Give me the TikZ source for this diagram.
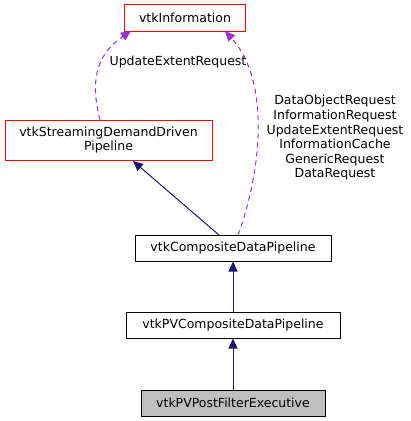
\documentclass[tikz,border=0pt]{standalone}
\usepackage{fontspec}
\setmainfont{DejaVu Sans}
\usetikzlibrary{arrows.meta}
\definecolor{edgenavy}{HTML}{191970}
\definecolor{edgepurple}{HTML}{9A32CD}
\definecolor{boxred}{HTML}{FF0000}
\begin{document}
\begin{tikzpicture}[x=1pt,y=-1pt,
  box/.style={draw=black,fill=white,line width=1pt,inner sep=0pt,font=\fontsize{12.5}{14.6}\selectfont,align=center},
  redbox/.style={box,draw=boxred},
  graybox/.style={box,fill=black!25},
  inherit/.style={draw=edgenavy,line width=1pt,-{Triangle[length=10pt,width=9pt,fill=edgenavy]}},
  usage/.style={draw=edgepurple,line width=1pt,dash pattern=on 5pt off 4pt,-{Triangle[length=10pt,width=9pt,fill=edgepurple]}},
  lbl/.style={font=\fontsize{12.5}{14.6}\selectfont,align=center,inner sep=0pt}]
\fill[white] (0,0) rectangle (411,421);
\useasboundingbox (0,0) rectangle (411,421);
\node[redbox,minimum width=207pt,minimum height=40pt] (sddp) at (108.5,140) {vtkStreamingDemandDriven\\Pipeline};
\node[box,draw=none,minimum width=120pt,minimum height=26pt] (info) at (185,18) {vtkInformation};
\draw[boxred,line width=1pt] (info.north west) rectangle (info.south east);
\node[box,minimum width=196pt,minimum height=26pt] (cdp) at (233,248) {vtkCompositeDataPipeline};
\node[box,minimum width=214pt,minimum height=26pt] (pvcdp) at (233,325) {vtkPVCompositeDataPipeline};
\node[graybox,minimum width=184pt,minimum height=26pt] (post) at (233,403) {vtkPVPostFilterExecutive};
\coordinate (s1) at (100,120);
\coordinate (c1) at (238,235);
\coordinate (i1) at (131,31);
\coordinate (i2) at (225,31);
\coordinate (c2) at (219,235);
\coordinate (s2) at (133,161);
\draw[usage] (s1) .. controls (94,95) and (88,60) .. (i1);
\draw[usage] (c1) .. controls (262,170) and (270,80) .. (i2);
\node[lbl] (l1) at (178,62) {UpdateExtentRequest};
\node[lbl] (l2) at (335,138) {DataObjectRequest\\InformationRequest\\UpdateExtentRequest\\InformationCache\\GenericRequest\\DataRequest};
\draw[inherit] (c2) -- (s2);
\draw[inherit] (pvcdp) -- (cdp);
\draw[inherit] (post) -- (pvcdp);
\end{tikzpicture}
\end{document}
